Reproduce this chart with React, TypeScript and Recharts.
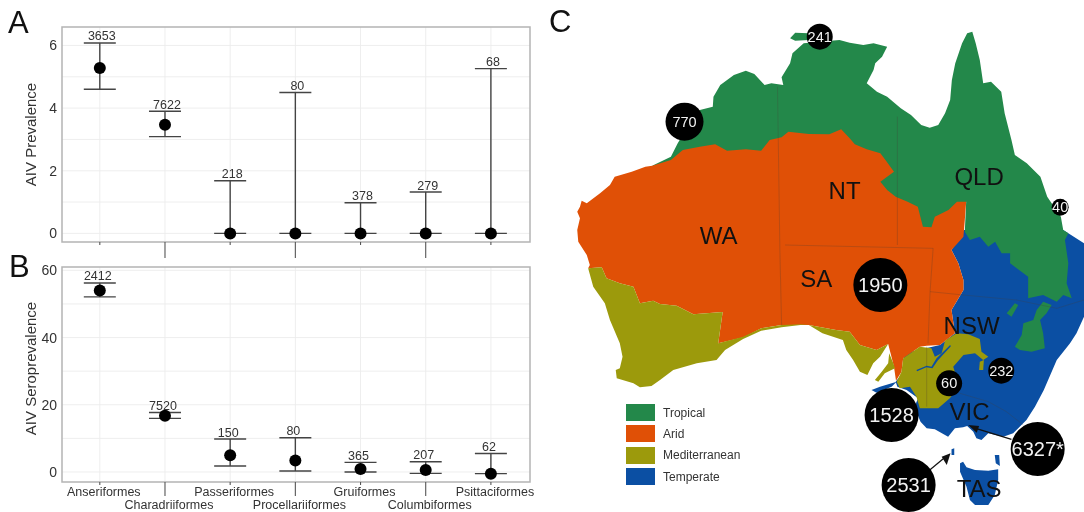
import React from 'react';
import {
  ScatterChart,
  Scatter,
  XAxis,
  YAxis,
  CartesianGrid,
  ErrorBar,
  LabelList,
  ReferenceArea,
  Legend,
} from 'recharts';

const orders = [
  'Anseriformes',
  'Charadriiformes',
  'Passeriformes',
  'Procellariiformes',
  'Gruiformes',
  'Columbiformes',
  'Psittaciformes',
];
const positions = [1, 2, 3, 4, 5, 6, 7];

const prevalence = [5.28, 3.47, 0, 0, 0, 0, 0];
const prevalenceLow = [4.6, 3.09, 0, 0, 0, 0, 0];
const prevalenceHigh = [6.08, 3.9, 1.68, 4.5, 0.98, 1.32, 5.26];
const prevalenceN = [3653, 7622, 218, 80, 378, 279, 68];

const seroprevalence = [54, 16.75, 4.95, 3.4, 0.9, 0.6, -0.5];
const seroLow = [52.1, 15.95, 1.8, 0.3, 0, -0.4, -0.5];
const seroHigh = [56.25, 17.7, 9.8, 10.2, 2.85, 3.05, 5.5];
const seroN = [2412, 7520, 150, 80, 365, 207, 62];

const zones = ['Tropical', 'Arid', 'Mediterranean', 'Temperate'];
const zoneColours = ['#23884a', '#e05006', '#9c9a0c', '#0b4fa3'];

// map outlines, in map units (x 0-1568, y 0-1536, y down)
const temperateMain = [[1215,690],[1300,690],[1507,690],[1522,700],[1568,730],[1568,950],[1546,1000],[1527,1030],[1488,1080],[1450,1170],[1424,1220],[1399,1260],[1360,1300],[1331,1310],[1287,1300],[1267,1320],[1252,1315],[1243,1295],[1225,1278],[1213,1282],[1189,1285],[1169,1310],[1130,1288],[1106,1285],[1088,1265],[1070,1220],[1081,1195],[1047,1170],[1020,1160],[1015,1145],[1035,1120],[1040,1060],[1145,1035],[1189,1000],[1179,930],[1214,870],[1214,840],[1199,790],[1179,750]];
const tasmania = [[1204,1390],[1213,1385],[1223,1402],[1248,1410],[1287,1412],[1316,1408],[1316,1440],[1306,1485],[1287,1515],[1248,1515],[1233,1500],[1223,1460],[1204,1415]];
const flinders = [[1306,1365],[1319,1365],[1321,1398],[1309,1390]];
const kingIsland = [[1179,1348],[1187,1345],[1187,1365],[1179,1365]];
const kangarooIsland = [[944,1170],[969,1160],[1018,1145],[1003,1160],[959,1178]];

const tropicalMain = [[300,497],[355,470],[375,430],[395,395],[440,330],[478,320],[480,290],[500,255],[540,225],[575,212],[600,222],[630,255],[650,250],[685,255],[680,232],[705,190],[712,160],[745,130],[790,125],[850,120],[880,128],[920,135],[950,130],[990,140],[975,170],[955,190],[950,210],[930,250],[960,275],[990,290],[1030,325],[1060,345],[1090,375],[1115,383],[1140,375],[1160,340],[1175,300],[1180,240],[1190,190],[1210,130],[1225,100],[1240,95],[1250,130],[1262,180],[1272,250],[1295,245],[1325,275],[1335,340],[1355,420],[1365,465],[1400,490],[1440,530],[1460,590],[1480,620],[1500,650],[1507,690],[1522,700],[1512,720],[1522,790],[1517,850],[1532,895],[1507,885],[1488,905],[1448,885],[1404,895],[1404,830],[1351,790],[1351,760],[1326,760],[1307,725],[1287,740],[1262,710],[1233,720],[1218,695],[1222,605],[1100,720],[1000,720]];
const tiwi = [[705,115],[720,98],[760,100],[760,120],[720,122]];
const tropicalPatch = [[1365,1040],[1385,1005],[1390,970],[1419,960],[1429,930],[1448,905],[1473,915],[1458,940],[1439,960],[1448,1000],[1453,1045],[1414,1055],[1380,1050]];
const tropicalSliver = [[1341,940],[1365,910],[1375,915],[1355,950]];

const aridMain = [[300,497],[355,480],[390,450],[440,440],[485,433],[520,452],[575,448],[620,452],[645,420],[680,412],[700,395],[760,402],[820,403],[855,388],[880,415],[895,433],[930,448],[970,460],[985,480],[1010,515],[970,545],[990,570],[1015,590],[1050,605],[1080,620],[1095,680],[1120,682],[1130,650],[1170,630],[1195,605],[1222,605],[1218,660],[1214,710],[1179,750],[1199,790],[1214,840],[1214,870],[1179,930],[1189,1000],[1145,1035],[1106,1037],[1086,1040],[1037,1075],[1032,1115],[1016,1142],[1010,1100],[1000,1060],[993,1032],[959,1050],[910,1035],[880,995],[840,990],[760,975],[680,975],[620,985],[570,1012],[494,1030],[507,936],[421,943],[372,917],[323,912],[303,902],[264,910],[245,860],[205,850],[166,835],[152,802],[112,805],[117,795],[108,765],[83,725],[80,690],[88,655],[80,635],[88,620],[93,602],[108,610],[147,580],[176,555],[190,530],[240,515],[280,500]];

const mediterraneanWest = [[112,805],[152,802],[166,835],[205,850],[245,860],[264,910],[303,902],[323,912],[372,917],[421,943],[507,936],[494,1030],[567,1010],[620,985],[680,975],[760,972],[680,982],[620,992],[567,1017],[514,1050],[489,1080],[431,1090],[362,1110],[323,1140],[298,1158],[264,1162],[245,1150],[196,1135],[193,1110],[205,1105],[213,1070],[205,1030],[176,960],[161,910],[127,860]];
const eyrePeninsula = [[760,975],[800,1000],[860,1020],[870,1050],[890,1080],[910,1115],[932,1125],[949,1090],[969,1070],[993,1032],[959,1050],[910,1035],[880,995],[840,990]];
const yorkePeninsula = [[996,1060],[1008,1090],[1013,1105],[983,1120],[964,1145],[954,1140],[974,1115],[993,1090]];
const mediterraneanEast = [[1037,1075],[1086,1040],[1120,1045],[1130,1070],[1150,1060],[1160,1022],[1194,1000],[1228,1003],[1262,1017],[1267,1055],[1287,1070],[1272,1080],[1248,1060],[1214,1065],[1184,1100],[1190,1120],[1200,1160],[1174,1195],[1140,1225],[1086,1225],[1076,1190],[1057,1160],[1027,1165],[1018,1145],[1032,1115]];
const mediterraneanDot = [[1262,1085],[1274,1080],[1272,1110],[1260,1110]];
const temperateCreek = [[1076,1110],[1106,1097],[1120,1100],[1135,1075],[1155,1055],[1175,1035],[1177,1039],[1158,1060],[1138,1082],[1123,1105],[1105,1102],[1078,1114]];

const stateBorders = [
  [[668,260],[675,750],[680,975]],
  [[1020,350],[1020,735]],
  [[690,735],[1125,745],[1116,875],[1110,1030]],
  [[1116,875],[1214,885],[1370,900],[1488,925],[1568,900]],
  [[1106,1040],[1106,1220]],
  [[1204,1180],[1287,1205],[1340,1235],[1390,1275]],
];

const arrowShafts = [
  [[1355,1318],[1250,1285]],
  [[1115,1410],[1160,1372]],
];
const arrowHeads = [
  [[1228,1275],[1260,1278],[1253,1298]],
  [[1176,1360],[1150,1370],[1165,1395]],
];

const stateNames = ['WA', 'NT', 'QLD', 'SA', 'NSW', 'VIC', 'TAS'];
const stateX = [495, 865, 1260, 782, 1238, 1232, 1260];
const stateY = [705, 572, 530, 835, 975, 1235, 1465];

const siteLabels = ['241', '770', '40', '1950', '1528', '6327*', '2531', '232', '60'];
const siteX = [792, 395, 1498, 970, 1003, 1432, 1053, 1325, 1172];
const siteY = [110, 365, 622, 855, 1245, 1347, 1455, 1112, 1150];

const makeRows = (v: number[], lo: number[], hi: number[], n: number[]) =>
  positions.map((x, i) => ({ x, y: v[i], err: [v[i] - lo[i], hi[i] - v[i]], top: hi[i], n: n[i] }));

const prevalenceRows = makeRows(prevalence, prevalenceLow, prevalenceHigh, prevalenceN);
const seroRows = makeRows(seroprevalence, seroLow, seroHigh, seroN);
const toPoints = (pairs: number[][]) => pairs.map(([x, y]) => ({ x, y }));

const FONT = '"Liberation Sans", Arial, sans-serif';
const NoMark = () => <g />;

const Dot = (props: any) => <circle cx={props.cx} cy={props.cy} r={6} fill="#000" />;

const makeTick = (shortLen: number, longLen: number, showLabel: boolean) => (props: any) => {
  const { x, y, payload } = props;
  const even = payload.value % 2 === 0;
  return (
    <g>
      <line x1={x} x2={x} y1={y} y2={y + (even ? longLen : shortLen)} stroke="#555" strokeWidth={1.1} />
      {showLabel && (
        <text x={x + 4} y={y + (even ? 27 : 14)} textAnchor="middle" fontSize={12.5} fill="#333" fontFamily={FONT}>
          {orders[payload.value - 1]}
        </text>
      )}
    </g>
  );
};

type PanelProps = {
  rows: any[];
  domain: number[];
  ticks: number[];
  gridValues: number[];
  title: string;
  titleShift: number;
  labelShift: number;
  top: number;
  marginTop: number;
  axisHeight: number;
  tick: any;
};

const Panel = ({ rows, domain, ticks, gridValues, title, titleShift, labelShift, top, marginTop, axisHeight, tick }: PanelProps) => (
  <div style={{ position: 'absolute', left: 0, top }}>
    <ScatterChart width={540} height={262} margin={{ top: marginTop, right: 10, bottom: 0, left: 0 }}>
      <CartesianGrid
        stroke="#ececec"
        strokeWidth={0.9}
        horizontalValues={gridValues}
        verticalValues={positions}
      />
      <XAxis
        type="number"
        dataKey="x"
        domain={[0.42, 7.6]}
        ticks={positions}
        interval={0}
        allowDataOverflow
        height={axisHeight}
        axisLine={false}
        tickLine={false}
        tickSize={0}
        tickMargin={0}
        tick={tick}
      />
      <YAxis
        type="number"
        dataKey="y"
        domain={domain}
        ticks={ticks}
        interval={0}
        allowDataOverflow
        width={62}
        axisLine={false}
        tickLine={false}
        tickSize={0}
        tickMargin={5}
        tick={{ fontSize: 14, fill: '#333', fontFamily: FONT }}
        label={{
          value: title,
          angle: -90,
          position: 'insideLeft',
          offset: 0,
          dx: 31,
          dy: titleShift,
          style: { textAnchor: 'middle', fontSize: 15, fill: '#333', fontFamily: FONT },
        }}
      />
      <ReferenceArea
        x1={0.42}
        x2={7.6}
        y1={domain[0]}
        y2={domain[1]}
        fill="none"
        stroke="#b4b4b4"
        strokeWidth={1.5}
        ifOverflow="visible"
      />
      <Scatter data={rows} isAnimationActive={false} shape={Dot}>
        <ErrorBar dataKey="err" direction="y" width={16} stroke="#444" strokeWidth={1.4} isAnimationActive={false} />
      </Scatter>
      <Scatter
        data={rows.map((r) => ({ x: r.x, y: r.top, n: r.n }))}
        isAnimationActive={false}
        shape={NoMark}
      >
        <LabelList
          dataKey="n"
          position="top"
          offset={-2}
          dx={labelShift}
          style={{ fontSize: 12.5, fill: '#333', fontFamily: FONT }}
        />
      </Scatter>
    </ScatterChart>
  </div>
);

const Region = ({ pairs, fill }: { pairs: number[][]; fill: string }) => (
  <Scatter
    data={toPoints(pairs)}
    isAnimationActive={false}
    legendType="none"
    shape={NoMark}
    line={{ fill, stroke: 'none', strokeWidth: 0 }}
  />
);

const StateLabel = (props: any) => (
  <text
    x={props.cx}
    y={props.cy}
    textAnchor="middle"
    dominantBaseline="central"
    fontSize={24}
    fill="#111"
    fontFamily={FONT}
  >
    {props.payload.name}
  </text>
);

const siteRadius = (n: number) => (n >= 1000 ? 27 : n >= 500 ? 19 : n >= 50 ? 13 : 8.5);

const SiteBubble = (props: any) => {
  const n = parseInt(props.payload.label, 10);
  return (
    <g>
      <circle cx={props.cx} cy={props.cy} r={siteRadius(n)} fill="#000" />
      <text
        x={props.cx}
        y={props.cy}
        textAnchor="middle"
        dominantBaseline="central"
        fontSize={n >= 1000 ? 20 : 14.5}
        fill="#f2f2f2"
        fontFamily={FONT}
      >
        {props.payload.label}
      </text>
    </g>
  );
};

const ZoneLegend = () => (
  <div style={{ fontFamily: FONT, fontSize: 12, color: '#333' }}>
    {zones.map((z, i) => (
      <div key={z} style={{ display: 'flex', alignItems: 'center', height: 21.3 }}>
        <span style={{ width: 29, height: 17, background: zoneColours[i], marginRight: 8 }} />
        {z}
      </div>
    ))}
  </div>
);

const MapPanel = () => (
  <div style={{ position: 'absolute', left: 550, top: 0 }}>
    <ScatterChart width={534} height={512} margin={{ top: 0, right: 0, bottom: 0, left: 0 }}>
      <XAxis type="number" dataKey="x" domain={[0, 1568]} hide allowDataOverflow />
      <YAxis type="number" dataKey="y" domain={[0, 1536]} reversed hide allowDataOverflow />
      {Region({ pairs: temperateMain, fill: zoneColours[3] })}
      {Region({ pairs: tasmania, fill: zoneColours[3] })}
      {Region({ pairs: flinders, fill: zoneColours[3] })}
      {Region({ pairs: kingIsland, fill: zoneColours[3] })}
      {Region({ pairs: kangarooIsland, fill: zoneColours[3] })}
      {Region({ pairs: tropicalMain, fill: zoneColours[0] })}
      {Region({ pairs: tiwi, fill: zoneColours[0] })}
      {Region({ pairs: tropicalPatch, fill: zoneColours[0] })}
      {Region({ pairs: tropicalSliver, fill: zoneColours[0] })}
      {Region({ pairs: aridMain, fill: zoneColours[1] })}
      {Region({ pairs: mediterraneanWest, fill: zoneColours[2] })}
      {Region({ pairs: eyrePeninsula, fill: zoneColours[2] })}
      {Region({ pairs: yorkePeninsula, fill: zoneColours[2] })}
      {Region({ pairs: mediterraneanEast, fill: zoneColours[2] })}
      {Region({ pairs: mediterraneanDot, fill: zoneColours[2] })}
      {Region({ pairs: temperateCreek, fill: zoneColours[3] })}
      {stateBorders.map((b, i) => (
        <Scatter
          key={i}
          data={toPoints(b)}
          isAnimationActive={false}
          legendType="none"
          shape={NoMark}
          line={{ stroke: 'rgba(70,60,50,0.25)', strokeWidth: 1, fill: 'none' }}
        />
      ))}
      {arrowShafts.map((a, i) => (
        <Scatter
          key={i}
          data={toPoints(a)}
          isAnimationActive={false}
          legendType="none"
          shape={NoMark}
          line={{ stroke: '#111', strokeWidth: 1.2, fill: 'none' }}
        />
      ))}
      {arrowHeads.map((a, i) => (
        <Scatter
          key={i}
          data={toPoints(a)}
          isAnimationActive={false}
          legendType="none"
          shape={NoMark}
          line={{ stroke: 'none', fill: '#111' }}
        />
      ))}
      <Scatter
        data={stateNames.map((name, i) => ({ x: stateX[i], y: stateY[i], name }))}
        isAnimationActive={false}
        legendType="none"
        shape={StateLabel}
      />
      <Scatter
        data={siteLabels.map((label, i) => ({ x: siteX[i], y: siteY[i], label }))}
        isAnimationActive={false}
        legendType="none"
        shape={SiteBubble}
      />
      <Legend
        layout="vertical"
        align="center"
        verticalAlign="middle"
        content={ZoneLegend}
        wrapperStyle={{ left: 76, top: 402, width: 140 }}
      />
    </ScatterChart>
  </div>
);

const panelLetter = (text: string, left: number, top: number) => (
  <div
    style={{
      position: 'absolute',
      left,
      top,
      fontFamily: FONT,
      fontSize: 31,
      lineHeight: '31px',
      color: '#111',
    }}
  >
    {text}
  </div>
);

export default function App() {
  return (
    <div
      style={{
        position: 'absolute',
        left: 0,
        top: 0,
        width: 1084,
        height: 512,
        background: '#fff',
        overflow: 'hidden',
        filter: 'blur(0.4px)', // the reference is a soft, rescaled scan
      }}
    >
      <Panel
        rows={prevalenceRows}
        domain={[-0.275, 6.59]}
        ticks={[0, 2, 4, 6]}
        gridValues={[0, 1, 2, 3, 4, 5, 6]}
        title="AIV Prevalence"
        titleShift={0}
        labelShift={2}
        top={0}
        marginTop={27}
        axisHeight={20}
        tick={makeTick(3, 16, false)}
      />
      <Panel
        rows={seroRows}
        domain={[-2.98, 61]}
        ticks={[0, 20, 40, 60]}
        gridValues={[0, 10, 20, 30, 40, 50, 60]}
        title="AIV Seroprevalence"
        titleShift={-6}
        labelShift={-2}
        top={250}
        marginTop={17}
        axisHeight={30}
        tick={makeTick(3, 14, true)}
      />
      <MapPanel />
      {panelLetter('A', 8, 7)}
      {panelLetter('B', 9, 251)}
      {panelLetter('C', 549, 6)}
    </div>
  );
}
